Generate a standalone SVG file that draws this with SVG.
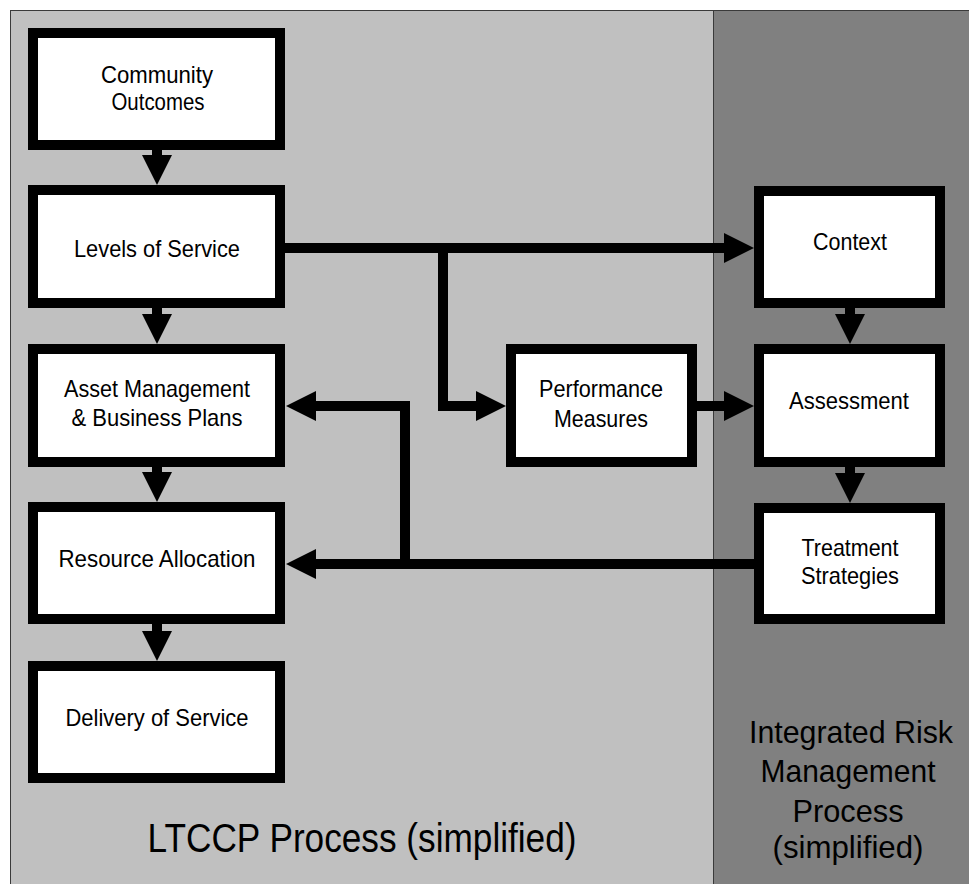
<svg xmlns="http://www.w3.org/2000/svg" width="969" height="884" viewBox="0 0 969 884">
  <style>
    .panel { stroke: #3a3a3a; stroke-width: 1; }
    .box { fill: #ffffff; stroke: #000000; stroke-width: 10; }
    .lbl { font-family: "Liberation Sans", Arial, sans-serif; font-size: 24px; fill: #000000; text-anchor: middle; }
    .title { font-family: "Liberation Sans", Arial, sans-serif; fill: #000000; text-anchor: middle; }
    .wire { fill: none; stroke: #000000; stroke-width: 10; stroke-linejoin: miter; stroke-linecap: butt; marker-end: url(#head); }
  </style>
  <defs>
    <marker id="head" viewBox="0 0 30 30" refX="10" refY="15" markerWidth="30" markerHeight="30" markerUnits="userSpaceOnUse" orient="auto">
      <path d="M0,0 L30,15 L0,30 Z" fill="#000000"/>
    </marker>
  </defs>

  <!-- background panels -->
  <rect class="panel" x="10.5" y="10.5" width="703" height="874" fill="#c0c0c0"/>
  <rect class="panel" x="713.5" y="10.5" width="256" height="874" fill="#808080"/>

  <!-- connectors -->
  <g id="connectors">
    <path class="wire" d="M157,150 L157,165"/>
    <path class="wire" d="M157,308 L157,324"/>
    <path class="wire" d="M157,467 L157,482"/>
    <path class="wire" d="M157,624 L157,641"/>
    <path class="wire" d="M285,248 L734,248"/>
    <path class="wire" d="M443,248 L443,406 L486,406"/>
    <path class="wire" d="M697,406 L734,406"/>
    <path class="wire" d="M850,308 L850,324"/>
    <path class="wire" d="M850,467 L850,483"/>
    <path class="wire" d="M754,564 L306,564"/>
    <path class="wire" d="M405,564 L405,406 L306,406"/>
  </g>

  <!-- LTCCP column -->
  <g id="community-outcomes">
    <rect class="box" x="33" y="33" width="247" height="112"/>
    <text class="lbl" x="157" y="83" textLength="112" lengthAdjust="spacingAndGlyphs">Community</text>
    <text class="lbl" x="158" y="110" textLength="93" lengthAdjust="spacingAndGlyphs">Outcomes</text>
  </g>
  <g id="levels-of-service">
    <rect class="box" x="33" y="190" width="247" height="113"/>
    <text class="lbl" x="157" y="257" textLength="166" lengthAdjust="spacingAndGlyphs">Levels of Service</text>
  </g>
  <g id="asset-management">
    <rect class="box" x="33" y="349" width="247" height="113"/>
    <text class="lbl" x="157" y="397" textLength="186" lengthAdjust="spacingAndGlyphs">Asset Management</text>
    <text class="lbl" x="157" y="426" textLength="171" lengthAdjust="spacingAndGlyphs">&amp; Business Plans</text>
  </g>
  <g id="resource-allocation">
    <rect class="box" x="33" y="507" width="247" height="112"/>
    <text class="lbl" x="157" y="567" textLength="197" lengthAdjust="spacingAndGlyphs">Resource Allocation</text>
  </g>
  <g id="delivery-of-service">
    <rect class="box" x="33" y="666" width="247" height="112"/>
    <text class="lbl" x="157" y="726" textLength="183" lengthAdjust="spacingAndGlyphs">Delivery of Service</text>
  </g>

  <!-- middle -->
  <g id="performance-measures">
    <rect class="box" x="511" y="349" width="181" height="113"/>
    <text class="lbl" x="601" y="397" textLength="124" lengthAdjust="spacingAndGlyphs">Performance</text>
    <text class="lbl" x="601" y="427" textLength="94" lengthAdjust="spacingAndGlyphs">Measures</text>
  </g>

  <!-- risk management column -->
  <g id="context">
    <rect class="box" x="759" y="191" width="181" height="112"/>
    <text class="lbl" x="850" y="250" textLength="74" lengthAdjust="spacingAndGlyphs">Context</text>
  </g>
  <g id="assessment">
    <rect class="box" x="759" y="349" width="181" height="113"/>
    <text class="lbl" x="849" y="409" textLength="120" lengthAdjust="spacingAndGlyphs">Assessment</text>
  </g>
  <g id="treatment-strategies">
    <rect class="box" x="759" y="508" width="181" height="111"/>
    <text class="lbl" x="850" y="556" textLength="97" lengthAdjust="spacingAndGlyphs">Treatment</text>
    <text class="lbl" x="850" y="584" textLength="98" lengthAdjust="spacingAndGlyphs">Strategies</text>
  </g>

  <!-- panel titles -->
  <text class="title" x="362" y="852" font-size="40" textLength="429" lengthAdjust="spacingAndGlyphs">LTCCP Process (simplified)</text>
  <g class="title" font-size="32">
    <text x="851" y="743" textLength="204" lengthAdjust="spacingAndGlyphs">Integrated Risk</text>
    <text x="848" y="782" textLength="175" lengthAdjust="spacingAndGlyphs">Management</text>
    <text x="848" y="822" textLength="111" lengthAdjust="spacingAndGlyphs">Process</text>
    <text x="848" y="858" textLength="151" lengthAdjust="spacingAndGlyphs">(simplified)</text>
  </g>
</svg>
